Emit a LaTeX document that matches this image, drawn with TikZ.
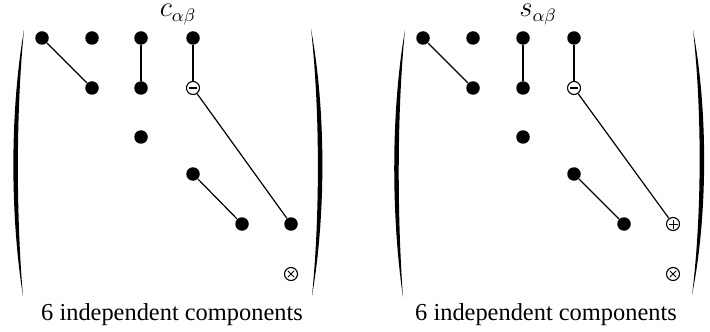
\documentclass[tikz,border=0pt]{standalone}
\usepackage{fontspec}
\setmainfont{Liberation Serif}

\newlength{\du}
\setlength{\du}{0.5pt}

\begin{document}
\begin{tikzpicture}[
  comp/.style={circle,fill=dialinecolor,inner sep=0pt,minimum size=13.5\du},
  ring/.style={circle,draw=dialinecolor,fill=white,line width=1.1\du,inner sep=0pt,minimum size=13\du},
  negcomp/.style={ring,path picture={\fill[dialinecolor]
      ([xshift=-4.2\du,yshift=-1.3\du]path picture bounding box.center) rectangle
      ([xshift=4.2\du,yshift=1.3\du]path picture bounding box.center);}},
  poscomp/.style={ring,path picture={\draw[dialinecolor,line width=0.8\du]
      ([xshift=-4.5\du]path picture bounding box.center) -- ([xshift=4.5\du]path picture bounding box.center)
      ([yshift=-4.5\du]path picture bounding box.center) -- ([yshift=4.5\du]path picture bounding box.center);}},
  halfcomp/.style={ring,path picture={\draw[dialinecolor,line width=0.8\du]
      ([xshift=-3.2\du,yshift=-3.2\du]path picture bounding box.center) -- ([xshift=3.2\du,yshift=3.2\du]path picture bounding box.center)
      ([xshift=-3.2\du,yshift=3.2\du]path picture bounding box.center) -- ([xshift=3.2\du,yshift=-3.2\du]path picture bounding box.center);}},
  link/.style={draw=dialinecolor,line width=1.2\du},
  lbl/.style={font=\fontsize{12.2}{14}\selectfont,inner sep=0pt},
  mlbl/.style={font=\fontsize{13.5}{15}\selectfont,inner sep=0pt},
  paren/.style={fill=dialinecolor}]
\definecolor{dialinecolor}{rgb}{0.000000, 0.000000, 0.000000}
\pgftransformxscale{1.000000}
\pgftransformyscale{-1.000000}
\useasboundingbox (0\du,0\du) rectangle (710\du,331\du);
% matrix c
\fill[paren] (24\du,30\du) .. controls (10\du,110\du) and (10\du,215\du) .. (23\du,296\du)
  .. controls (16\du,215\du) and (16\du,110\du) .. (24\du,30\du) -- cycle;
\fill[paren] (311\du,29\du) .. controls (326\du,110\du) and (326\du,215\du) .. (312\du,296\du)
  .. controls (320\du,215\du) and (320\du,110\du) .. (311\du,29\du) -- cycle;
\node[mlbl,anchor=base] (ctitle) at (178\du,17\du) {$c_{\alpha\beta}$};
\node[comp] (c11) at (42\du,38\du) {};
\node[comp] (c12) at (92\du,38\du) {};
\node[comp] (c13) at (141\du,38\du) {};
\node[comp] (c14) at (193\du,38\du) {};
\node[comp] (c22) at (92\du,88\du) {};
\node[comp] (c23) at (141\du,88\du) {};
\node[negcomp] (c24) at (193\du,88\du) {};
\node[comp] (c33) at (141\du,137\du) {};
\node[comp] (c44) at (193\du,174\du) {};
\node[comp] (c55) at (242\du,224\du) {};
\node[comp] (c56) at (291\du,224\du) {};
\node[halfcomp] (c66) at (291\du,274\du) {};
\draw[link] (c11) -- (c22);
\draw[link] (c13) -- (c23);
\draw[link] (c14) -- (c24);
\draw[link] (c24) -- (c56);
\draw[link] (c44) -- (c55);
\node[lbl,anchor=base] (ccount) at (172\du,320\du) {6 independent components};
% matrix s
\fill[paren] (405\du,30\du) .. controls (391\du,110\du) and (391\du,215\du) .. (403\du,297\du)
  .. controls (397\du,215\du) and (397\du,110\du) .. (405\du,30\du) -- cycle;
\fill[paren] (693\du,30\du) .. controls (708\du,110\du) and (708\du,215\du) .. (692\du,295\du)
  .. controls (702\du,215\du) and (702\du,110\du) .. (693\du,30\du) -- cycle;
\node[mlbl,anchor=base] (stitle) at (538\du,17\du) {$s_{\alpha\beta}$};
\node[comp] (s11) at (423\du,38\du) {};
\node[comp] (s12) at (473\du,38\du) {};
\node[comp] (s13) at (523\du,38\du) {};
\node[comp] (s14) at (574\du,38\du) {};
\node[comp] (s22) at (473\du,88\du) {};
\node[comp] (s23) at (523\du,88\du) {};
\node[negcomp] (s24) at (574\du,88\du) {};
\node[comp] (s33) at (523\du,137\du) {};
\node[comp] (s44) at (574\du,174\du) {};
\node[comp] (s55) at (624\du,224\du) {};
\node[poscomp] (s56) at (673\du,224\du) {};
\node[halfcomp] (s66) at (673\du,274\du) {};
\draw[link] (s11) -- (s22);
\draw[link] (s13) -- (s23);
\draw[link] (s14) -- (s24);
\draw[link] (s24) -- (s56);
\draw[link] (s44) -- (s55);
\node[lbl,anchor=base] (scount) at (546\du,320\du) {6 independent components};
\end{tikzpicture}
\end{document}
